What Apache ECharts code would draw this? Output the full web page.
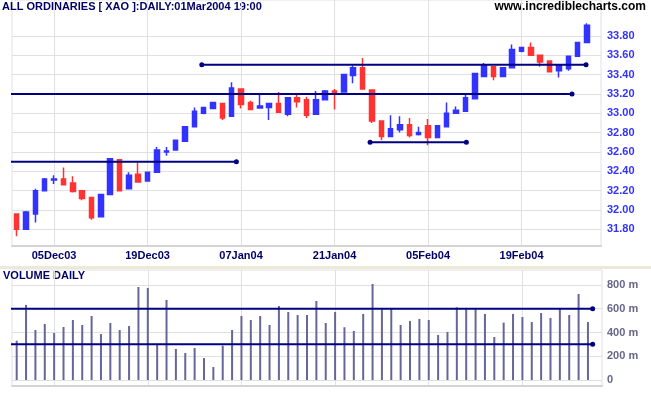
<!DOCTYPE html>
<html><head><meta charset="utf-8">
<script src="https://cdn.jsdelivr.net/npm/echarts@6/dist/echarts.min.js"></script>
<style>html,body{margin:0;padding:0;background:#fff}#c{width:651px;height:395px}</style>
</head><body><div id="c"></div>
<script>
const dates = ['01Dec03','02Dec03','03Dec03','04Dec03','05Dec03','08Dec03','09Dec03','10Dec03','11Dec03','12Dec03',
  '15Dec03','16Dec03','17Dec03','18Dec03','19Dec03','22Dec03','23Dec03','24Dec03','29Dec03','30Dec03','31Dec03',
  '02Jan04','05Jan04','06Jan04','07Jan04','08Jan04','09Jan04','12Jan04','13Jan04','14Jan04','15Jan04','16Jan04',
  '19Jan04','20Jan04','21Jan04','22Jan04','23Jan04','27Jan04','28Jan04','29Jan04','30Jan04',
  '02Feb04','03Feb04','04Feb04','05Feb04','06Feb04','09Feb04','10Feb04','11Feb04','12Feb04','13Feb04',
  '16Feb04','17Feb04','18Feb04','19Feb04','20Feb04','23Feb04','24Feb04','25Feb04','26Feb04','27Feb04','01Mar04'];
const tickLabels = ['05Dec03','19Dec03','07Jan04','21Jan04','05Feb04','19Feb04'];
const openP  = [31.96,31.80,31.96,32.20,32.31,32.32,32.28,32.20,32.13,31.93,32.16,32.52,32.22,32.37,32.30,32.39,32.60,32.62,32.71,32.86,
  33.00,33.05,33.10,32.97,33.25,33.11,33.055,33.06,33.10,32.99,33.16,33.14,32.99,33.14,33.23,33.22,33.39,33.47,33.24,32.92,
  32.76,32.83,32.88,32.78,32.87,32.75,32.86,33.00,33.02,33.15,33.38,33.48,33.38,33.47,33.64,33.68,33.60,33.54,33.44,33.46,33.59,33.73];
const closeP = [31.80,31.98,32.20,32.32,32.32,32.26,32.19,32.12,31.92,32.16,32.53,32.20,32.36,32.29,32.39,32.62,32.61,32.72,32.86,33.02,
  33.06,33.11,32.95,33.26,33.09,33.04,33.075,33.10,33.01,33.16,33.12,32.98,33.14,33.23,33.20,33.40,33.47,33.25,32.92,32.76,
  32.84,32.88,32.77,32.80,32.75,32.87,33.00,33.03,33.16,33.41,33.49,33.38,33.47,33.66,33.68,33.60,33.53,33.43,33.49,33.59,33.73,33.91];
const lowP   = [31.73,31.80,31.87,32.20,32.27,32.26,32.18,32.10,31.90,31.93,32.16,32.20,32.22,32.29,32.30,32.39,32.56,32.62,32.71,32.86,
  32.99,33.05,32.93,32.97,33.05,33.04,33.05,32.93,33.01,32.97,33.06,32.95,32.99,33.14,33.04,33.22,33.31,33.25,32.90,32.72,
  32.76,32.80,32.75,32.77,32.67,32.75,32.86,33.00,33.02,33.15,33.38,33.34,33.38,33.47,33.63,33.60,33.48,33.43,33.37,33.44,33.59,33.73];
const highP  = [31.96,31.99,32.22,32.33,32.36,32.44,32.35,32.20,32.13,32.16,32.53,32.52,32.39,32.49,32.39,32.65,32.65,32.72,32.86,33.06,
  33.06,33.11,33.10,33.32,33.25,33.13,33.20,33.10,33.22,33.16,33.21,33.17,33.23,33.24,33.25,33.40,33.49,33.57,33.24,32.92,
  32.98,32.97,32.95,32.86,32.94,32.87,33.11,33.07,33.20,33.41,33.52,33.48,33.47,33.71,33.68,33.73,33.60,33.54,33.50,33.59,33.73,33.93];
const volume = [331,632,421,472,396,446,505,463,539,387,480,421,455,783,775,295,674,261,227,269,
  185,109,289,421,539,505,539,463,623,572,547,547,665,480,572,444,413,556,808,595,
  603,463,497,514,505,379,404,612,595,595,556,362,483,556,530,488,564,522,603,547,724,488];
const priceTicks = [31.8,32.0,32.2,32.4,32.6,32.8,33.0,33.2,33.4,33.6,33.8];
const volumeTicks = [0,200,400,600,800];
// horizontal trend lines: level, start and end bar index, whether start has a dot
const priceLines = [
  {level:33.2, from:-1.8, to:59.4, dotStart:false},
  {level:33.5, from:19.8, to:60.9, dotStart:true},
  {level:32.5, from:-1.8, to:23.5, dotStart:false},
  {level:32.7, from:37.8, to:48.1, dotStart:true}
];
const volumeLines = [
  {level:600, from:-1.8, to:61.5, dotStart:false},
  {level:300, from:-1.8, to:61.5, dotStart:false}
];

const FONT = 'Liberation Sans, Arial, sans-serif';
const NAVY = '#000080';
const catData = dates.concat(['']);
const tickIdx = tickLabels.map(l => dates.indexOf(l));
const nCat = catData.length;

function lineSeries(lines, xi, yi) {
  return lines.map(l => ({
    type: 'line', xAxisIndex: xi, yAxisIndex: yi, clip: false, silent: true,
    symbol: 'circle', symbolSize: 5, showAllSymbol: true,
    lineStyle: {color: NAVY, width: 2}, itemStyle: {color: NAVY},
    data: [{value: [l.from, l.level], symbol: l.dotStart ? 'circle' : 'none'}, {value: [l.to, l.level]}]
  }));
}

const chart = echarts.init(document.getElementById('c'), null, {renderer: 'canvas'});
chart.setOption({
  animation: false,
  backgroundColor: '#fff',
  grid: [
    {left: 12, right: 50, top: -1, height: 247, show: true, borderColor: '#e0e0e0', borderWidth: 1},
    {left: 12, right: 49, top: 270, height: 116, show: true, borderColor: '#e0e0e0', borderWidth: 1}
  ],
  xAxis: [
    {type: 'category', gridIndex: 0, data: catData, show: false, boundaryGap: true},
    {type: 'value', gridIndex: 0, min: -0.5, max: nCat - 0.5, position: 'bottom',
      axisLine: {show: true, onZero: false, lineStyle: {color: '#d4d4d4', width: 2}},
      axisTick: {show: false, customValues: tickIdx},
      axisLabel: {customValues: tickIdx, formatter: v => dates[Math.round(v)], color: '#000066',
        fontWeight: 'bold', fontSize: 11, fontFamily: FONT, margin: 4},
      splitLine: {show: true, lineStyle: {color: '#e0e0e0', width: 1}}},
    {type: 'category', gridIndex: 1, data: catData, show: false, boundaryGap: true},
    {type: 'value', gridIndex: 1, min: -0.5, max: nCat - 0.5, position: 'bottom',
      axisLine: {show: true, onZero: false, lineStyle: {color: '#d4d4d4', width: 2}},
      axisTick: {show: false, customValues: tickIdx},
      axisLabel: {show: false, customValues: tickIdx},
      splitLine: {show: true, lineStyle: {color: '#e0e0e0', width: 1}}}
  ],
  yAxis: [
    {type: 'value', gridIndex: 0, position: 'right', min: 31.628, max: 34.1705,
      axisLine: {show: false}, axisTick: {show: false, customValues: priceTicks},
      axisLabel: {customValues: priceTicks, formatter: v => v.toFixed(2), color: '#3333ff',
        fontWeight: 'bold', fontSize: 11, fontFamily: FONT, margin: 6},
      splitLine: {show: true, lineStyle: {color: '#e0e0e0', width: 1}}},
    {type: 'value', gridIndex: 1, position: 'right', min: -50.5, max: 926,
      axisLine: {show: false}, axisTick: {show: false, customValues: volumeTicks},
      axisLabel: {customValues: volumeTicks, formatter: v => v === 0 ? '0' : v + ' m', color: '#666688',
        fontWeight: 'bold', fontSize: 11, fontFamily: FONT, margin: 5},
      splitLine: {show: true, lineStyle: {color: '#e0e0e0', width: 1}}}
  ],
  series: [
    {type: 'candlestick', xAxisIndex: 0, yAxisIndex: 0, barWidth: 5,
      itemStyle: {color: '#3333ff', color0: '#ff3333', borderColor: '#3333ff', borderColor0: '#ff3333', borderWidth: 1.5},
      data: openP.map((o, i) => [o, closeP[i], lowP[i], highP[i]])},
    {type: 'bar', xAxisIndex: 2, yAxisIndex: 1, barWidth: 2, itemStyle: {color: '#666699'}, data: volume},
    ...lineSeries(priceLines, 1, 0),
    ...lineSeries(volumeLines, 3, 1)
  ],
  graphic: [
    {type: 'rect', shape: {x: 0, y: 266, width: 651, height: 3}, style: {fill: '#ece9d8'}},
    {type: 'text', left: 2, top: 1, style: {text: 'ALL ORDINARIES [ XAO ]:DAILY:01Mar2004 19:00', fill: '#000066', font: 'bold 11px ' + FONT}},
    {type: 'text', right: 5, top: 1, style: {text: 'www.incrediblecharts.com', fill: '#000000', font: 'bold 12px ' + FONT}},
    {type: 'text', left: 3, top: 270, style: {text: 'VOLUME DAILY', fill: '#000066', font: 'bold 11px ' + FONT}}
  ]
});
</script></body></html>
